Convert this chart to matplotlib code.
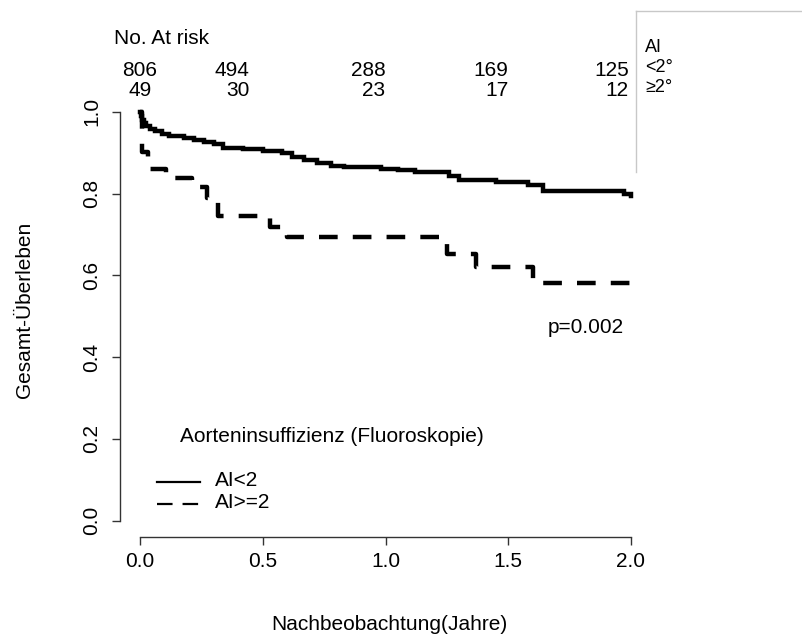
import matplotlib
matplotlib.use("Agg")
import matplotlib.pyplot as plt
from matplotlib.lines import Line2D
from matplotlib.transforms import blended_transform_factory, offset_copy

plt.rcParams["font.family"] = ["Liberation Sans", "DejaVu Sans"]

# Kaplan-Meier estimates (step functions)
t_low = [0.0, 0.003, 0.008, 0.015, 0.025, 0.04, 0.06, 0.09, 0.12, 0.18, 0.22,
         0.26, 0.30, 0.34, 0.42, 0.50, 0.58, 0.62, 0.67, 0.72, 0.78, 0.83,
         0.98, 1.05, 1.12, 1.26, 1.30, 1.45, 1.58, 1.64, 1.97, 2.0]
s_low = [1.0, 0.99, 0.98, 0.972, 0.965, 0.958, 0.952, 0.946, 0.941, 0.936,
         0.930, 0.925, 0.920, 0.912, 0.908, 0.904, 0.898, 0.890, 0.882, 0.875,
         0.868, 0.864, 0.860, 0.857, 0.852, 0.843, 0.834, 0.829, 0.821, 0.807,
         0.800, 0.794]

t_high = [0.0, 0.006, 0.032, 0.105, 0.212, 0.272, 0.319, 0.53, 0.598, 1.249,
          1.369, 1.60, 2.0]
s_high = [1.0, 0.902, 0.860, 0.837, 0.816, 0.79, 0.745, 0.718, 0.6925, 0.653,
          0.620, 0.581, 0.581]

risk_times = [0.0, 0.5, 1.0, 1.5, 2.0]
risk_low = [806, 494, 288, 169, 125]
risk_high = [49, 30, 23, 17, 12]

legend_labels = ["AI<2", "AI>=2"]
legend_title = "Aorteninsuffizienz (Fluoroskopie)"
p_text = "p=0.002"

W, H = 802, 638
fig = plt.figure(figsize=(W / 100, H / 100), dpi=100)


def fx(x):
    return x / W


def fy(y):
    return 1 - y / H


left, right, top, bottom = 120.4, 650.6, 95.4, 537.0
ax = fig.add_axes([fx(left), fy(bottom), fx(right - left), (bottom - top) / H])
ax.set_xlim(-0.08, 2.08)
ax.set_ylim(-0.04, 1.04)

lw = 3.2
ax.step(t_low, s_low, where="post", color="black", lw=lw,
        solid_joinstyle="miter")
ax.step(t_high, s_high, where="post", color="black", lw=lw,
        linestyle=(0, (4.2, 3.4)), dash_capstyle="butt")

for side in ("top", "right"):
    ax.spines[side].set_visible(False)
ax.spines["left"].set_bounds(0, 1)
ax.spines["bottom"].set_bounds(0, 2)
for side in ("left", "bottom"):
    ax.spines[side].set_color("#333333")
    ax.spines[side].set_linewidth(1.0)

ax.set_xticks([0, 0.5, 1.0, 1.5, 2.0])
ax.set_xticklabels(["0.0", "0.5", "1.0", "1.5", "2.0"])
ax.set_yticks([0, 0.2, 0.4, 0.6, 0.8, 1.0])
ax.set_yticklabels(["0.0", "0.2", "0.4", "0.6", "0.8", "1.0"],
                   rotation=90, va="center")
ax.tick_params(axis="both", direction="out", length=6, width=1.0,
               color="#333333", labelsize=15)
ax.tick_params(axis="x", pad=5)
ax.tick_params(axis="y", pad=8)

fig.text(fx(389), fy(625), "Nachbeobachtung(Jahre)", ha="center",
         va="center", fontsize=15)
fig.text(fx(25), fy(310), "Gesamt-Überleben", ha="center", va="center",
         rotation=90, fontsize=15)

# numbers at risk: first column centred on its time, the others right-aligned
tr = blended_transform_factory(ax.transData, fig.transFigure)
col_shift = [0, -13, 0, 0, -2]   # horizontal nudges in pixels
fig.text(fx(114), fy(38), "No. At risk", ha="left", va="center", fontsize=15)
for i, (t, a, b) in enumerate(zip(risk_times, risk_low, risk_high)):
    ha = "center" if i == 0 else "right"
    trc = offset_copy(tr, fig=fig, x=col_shift[i] * 72 / 100, y=0,
                      units="points")
    ax.text(t, fy(70), str(a), transform=trc, ha=ha, va="center",
            fontsize=15, clip_on=False)
    ax.text(t, fy(90), str(b), transform=trc, ha=ha, va="center",
            fontsize=15, clip_on=False)

# group box on the right
box_color = "#c8c8c8"
fig.add_artist(Line2D([fx(636), fx(636)], [fy(11), fy(172)], color=box_color,
                      lw=1.0, transform=fig.transFigure))
fig.add_artist(Line2D([fx(636), fx(802)], [fy(11), fy(11)], color=box_color,
                      lw=1.0, transform=fig.transFigure))
fig.text(fx(645), fy(47), "AI", ha="left", va="center", fontsize=13)
fig.text(fx(645), fy(67), "<2°", ha="left", va="center", fontsize=13)
fig.text(fx(645), fy(87), "≥2°", ha="left", va="center", fontsize=13)

# legend
fig.text(fx(180), fy(437), legend_title, ha="left", va="center", fontsize=15)
fig.add_artist(Line2D([fx(157), fx(200)], [fy(482), fy(482)], color="black",
                      lw=1.6, transform=fig.transFigure))
fig.add_artist(Line2D([fx(157), fx(200)], [fy(504), fy(504)], color="black",
                      lw=1.6, linestyle=(0, (7, 4.5)),
                      transform=fig.transFigure))
fig.text(fx(215), fy(481), legend_labels[0], ha="left", va="center",
         fontsize=15)
fig.text(fx(215), fy(503), legend_labels[1], ha="left", va="center",
         fontsize=15)

ax.text(1.972, 0.473, p_text, ha="right", va="center", fontsize=15)

fig.savefig("out.png", dpi=100)
